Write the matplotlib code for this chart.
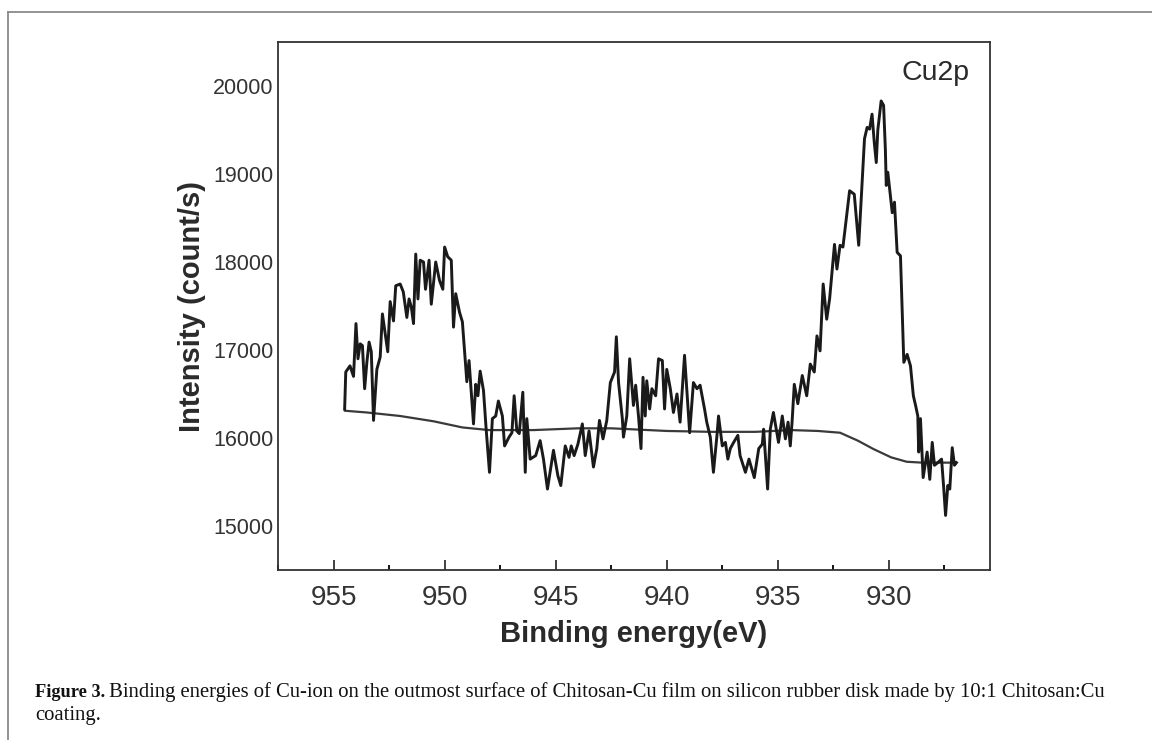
import numpy as np
import matplotlib
matplotlib.use('Agg')
from matplotlib import pyplot as plt
from matplotlib.lines import Line2D
from matplotlib.ticker import MultipleLocator

# XPS Cu2p spectrum
energy = [954.50, 954.45, 954.26, 954.10, 953.99, 953.90, 953.80, 953.70, 953.60, 953.50,
          953.40, 953.30, 953.20, 953.05, 952.90, 952.80, 952.62, 952.56, 952.45, 952.30,
          952.20, 952.00, 951.86, 951.70, 951.60, 951.50, 951.40, 951.30, 951.20, 951.10,
          950.95, 950.86, 950.70, 950.60, 950.40, 950.23, 950.08, 950.00, 949.86, 949.70,
          949.60, 949.50, 949.33, 949.20, 949.00, 948.90, 948.70, 948.60, 948.50, 948.40,
          948.25, 948.13, 947.98, 947.85, 947.70, 947.58, 947.40, 947.30, 947.10, 946.97,
          946.87, 946.75, 946.64, 946.48, 946.37, 946.30, 946.15, 945.90, 945.70, 945.55,
          945.37, 945.10, 944.90, 944.77, 944.57, 944.40, 944.30, 944.17, 944.00, 943.80,
          943.67, 943.50, 943.30, 943.15, 943.03, 942.87, 942.70, 942.54, 942.35, 942.27,
          942.17, 942.00, 941.95, 941.80, 941.67, 941.50, 941.40, 941.27, 941.16, 941.07,
          940.97, 940.90, 940.77, 940.67, 940.50, 940.37, 940.20, 940.10, 940.00, 939.84,
          939.70, 939.54, 939.40, 939.20, 939.10, 938.97, 938.80, 938.64, 938.50, 938.30,
          938.20, 938.04, 937.90, 937.74, 937.67, 937.50, 937.36, 937.25, 937.14, 936.99,
          936.80, 936.70, 936.46, 936.30, 936.06, 935.86, 935.70, 935.64, 935.46, 935.34,
          935.20, 934.97, 934.80, 934.66, 934.54, 934.44, 934.36, 934.26, 934.10, 933.90,
          933.70, 933.54, 933.36, 933.24, 933.10, 932.96, 932.80, 932.67, 932.45, 932.34,
          932.20, 932.07, 931.90, 931.77, 931.56, 931.36, 931.20, 931.10, 930.98, 930.87,
          930.76, 930.66, 930.57, 930.50, 930.35, 930.24, 930.16, 930.12, 930.05, 929.85,
          929.75, 929.63, 929.48, 929.33, 929.18, 929.03, 928.90, 928.80, 928.70, 928.66,
          928.58, 928.46, 928.28, 928.16, 928.05, 927.95, 927.80, 927.63, 927.53, 927.45,
          927.35, 927.26, 927.15, 927.05, 926.96]
intensity = [16330, 16750, 16820, 16700, 17300, 16900, 17070, 17050, 16560, 16860,
             17090, 16980, 16200, 16780, 16920, 17410, 17090, 16980, 17550, 17330,
             17730, 17750, 17660, 17370, 17580, 17490, 17300, 18090, 17580, 18020,
             18000, 17690, 18020, 17520, 18000, 17790, 17690, 18170, 18060, 18020,
             17260, 17640, 17430, 17320, 16640, 16880, 16160, 16610, 16480, 16760,
             16540, 16100, 15610, 16220, 16250, 16420, 16250, 15910, 16010, 16060,
             16480, 16080, 16050, 16520, 15610, 16220, 15760, 15800, 15970, 15760,
             15420, 15860, 15570, 15460, 15910, 15780, 15910, 15800, 15930, 16160,
             15800, 16080, 15670, 15880, 16200, 15990, 16200, 16630, 16750, 17150,
             16630, 16220, 16010, 16250, 16900, 16370, 16600, 16240, 15880, 16690,
             16250, 16650, 16330, 16560, 16480, 16900, 16880, 16330, 16780, 16560,
             16290, 16500, 16180, 16940, 16560, 16060, 16630, 16560, 16600, 16330,
             16180, 16010, 15610, 16030, 16250, 15910, 15950, 15760, 15880, 15950,
             16030, 15800, 15610, 15760, 15550, 15880, 15930, 16100, 15420, 16100,
             16290, 15950, 16250, 15990, 16180, 15910, 16180, 16610, 16390, 16710,
             16480, 16840, 16750, 17160, 16990, 17750, 17350, 17580, 18200, 17920,
             18190, 18170, 18530, 18810, 18770, 18190, 18940, 19400, 19530, 19510,
             19680, 19360, 19130, 19500, 19830, 19780, 19280, 18870, 19020, 18560,
             18680, 18110, 18070, 16860, 16950, 16820, 16480, 16370, 16250, 15840,
             16220, 15550, 15840, 15530, 15950, 15690, 15720, 15760, 15420, 15120,
             15460, 15420, 15890, 15690, 15720]

# Shirley-type background
bg_energy = [954.5, 953.5, 952.0, 950.5, 949.2, 948.0, 946.0, 944.0, 942.5, 940.0,
             938.0, 936.0, 934.4, 933.2, 932.2, 931.4, 930.7, 929.9, 929.2, 928.5, 927.0]
bg_intensity = [16310, 16290, 16250, 16190, 16120, 16090, 16090, 16110, 16110, 16080,
                16070, 16070, 16090, 16080, 16060, 15970, 15875, 15780, 15730, 15720, 15720]

xticks = [955, 950, 945, 940, 935, 930]
yticks = [15000, 16000, 17000, 18000, 19000, 20000]

plt.rcParams['font.family'] = ['Liberation Sans', 'DejaVu Sans']

fig = plt.figure(figsize=(11.52, 7.4), dpi=100)
ax = fig.add_axes([278 / 1152, 1 - 570 / 740, 712 / 1152, 528 / 740])

ax.plot(bg_energy, bg_intensity, color='#3a3a3a', lw=1.6, solid_capstyle='round')
ax.plot(energy, intensity, color='#1a1a1a', lw=2.1, solid_joinstyle='round')

ax.set_xlim(957.5, 925.45)
ax.set_ylim(14500, 20500)
ax.set_xticks(xticks)
ax.xaxis.set_minor_locator(MultipleLocator(2.5))
ax.set_yticks(yticks)

ax.tick_params(axis='x', which='major', direction='in', length=7.5, width=1.3,
               labelsize=20, pad=11, colors='#333333', top=False)
ax.tick_params(axis='x', which='minor', direction='in', length=3.8, width=1.3, top=False)
ax.tick_params(axis='y', which='both', length=0, labelsize=15.5, pad=3, colors='#333333')

for s in ax.spines.values():
    s.set_linewidth(1.3)
    s.set_color('#333333')

ax.set_xlabel('Binding energy(eV)', fontsize=21, fontweight='bold', color='#2a2a2a', labelpad=6)
ax.set_ylabel('Intensity (count/s)', fontsize=21, fontweight='bold', color='#2a2a2a', labelpad=5)
ax.text(0.972, 0.965, 'Cu2p', transform=ax.transAxes, ha='right', va='top',
        fontsize=20.5, color='#2a2a2a')

# page frame
fig.add_artist(Line2D([8 / 1152, 1], [1 - 12 / 740] * 2, color='#8a8a8a', lw=1.3,
                      transform=fig.transFigure))
fig.add_artist(Line2D([8 / 1152] * 2, [0, 1 - 12 / 740], color='#8a8a8a', lw=1.3,
                      transform=fig.transFigure))

# caption
cap_font = ['Liberation Serif', 'DejaVu Serif']
x0, y1, y2 = 35 / 1152, 1 - 697 / 740, 1 - 720 / 740
bold = fig.text(x0, y1, 'Figure 3.', family=cap_font, fontweight='bold', fontsize=13.2,
                va='baseline', color='#111111')
renderer = fig.canvas.get_renderer()
bb = bold.get_window_extent(renderer)
fig.text((bb.x1 + 4) / fig.bbox.width, y1,
         'Binding energies of Cu-ion on the outmost surface of Chitosan-Cu film on silicon '
         'rubber disk made by 10:1 Chitosan:Cu',
         family=cap_font, fontsize=14.85, va='baseline', color='#111111')
fig.text(x0, y2, 'coating.', family=cap_font, fontsize=14.85, va='baseline', color='#111111')

fig.savefig('out.png', dpi=100)
